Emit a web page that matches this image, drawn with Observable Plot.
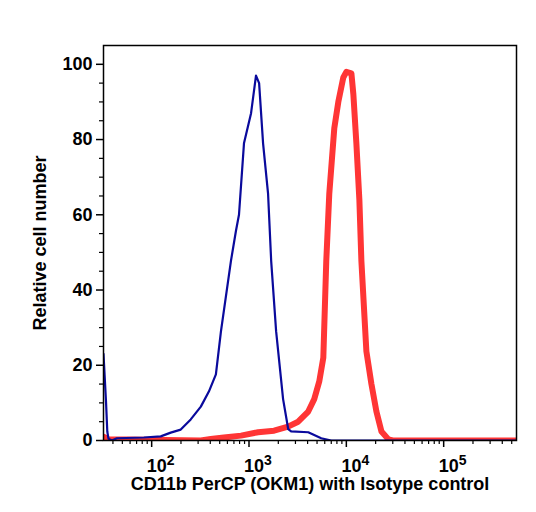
<!DOCTYPE html>
<html>
<head>
<meta charset="utf-8">
<script src="https://cdn.jsdelivr.net/npm/d3@7"></script>
<script src="https://cdn.jsdelivr.net/npm/@observablehq/plot@0.6"></script>
<style>
  html, body { margin: 0; padding: 0; background: #fff; }
  svg { display: block; }
</style>
</head>
<body>
<div id="chart"></div>
<script>
// Isotype control histogram (fluorescence, relative cell number)
const isotypeX = [32, 34, 35, 36, 39, 44, 83, 124, 157, 199, 252, 320, 387, 457, 515, 652, 734, 789, 888, 1050, 1180, 1270, 1395, 1570, 1690, 1900, 2240, 2530, 2710, 4060, 5520, 7000, 560000];
const isotypeY = [23, 10, 2.4, 0.5, 0, 0.6, 0.8, 1.1, 2.1, 2.9, 5.6, 9, 13, 17.6, 29, 47.7, 55.7, 60, 79, 87, 97, 95, 79, 65.6, 47.7, 29, 11, 3, 2.4, 2.2, 0.6, 0, 0];

// CD11b PerCP (OKM1) stained histogram
const stainedX = [32, 36, 320, 405, 552, 828, 1240, 1810, 2520, 3200, 4060, 4680, 5270, 5800, 6220, 6680, 7520, 8270, 9310, 10000, 11270, 11810, 12680, 13610, 14280, 16070, 18100, 20370, 22950, 27100, 30000, 560000];
const stainedY = [1, 0.3, 0, 0.4, 0.8, 1.3, 2.2, 2.6, 3.7, 5, 7.7, 11, 15.7, 22, 47.7, 65.6, 83, 90, 96.5, 98, 97.6, 92, 79, 64, 47.7, 23.7, 15, 7.7, 2.4, 0.3, 0, 0];

// Axis ticks
const xMajor = [1e2, 1e3, 1e4, 1e5];
const xMinor = [40, 50, 60, 70, 80, 90,
  200, 300, 400, 500, 600, 700, 800, 900,
  2000, 3000, 4000, 5000, 6000, 7000, 8000, 9000,
  20000, 30000, 40000, 50000, 60000, 70000, 80000, 90000,
  200000, 300000, 400000, 500000];
const yMajor = [0, 20, 40, 60, 80, 100];
const yMinor = [5, 10, 15, 25, 30, 35, 45, 50, 55, 65, 70, 75, 85, 90, 95];

const isotype = isotypeX.map((x, i) => ({x, y: isotypeY[i]}));
const stained = stainedX.map((x, i) => ({x, y: stainedY[i]}));

const font = "'Liberation Sans', Arial, Helvetica, sans-serif";

const chart = Plot.plot({
  width: 536,
  height: 512,
  marginLeft: 103,
  marginRight: 20,
  marginTop: 45,
  marginBottom: 72,
  style: {fontFamily: font, fontWeight: "bold", fontSize: "18px", color: "#000", background: "#fff"},
  x: {type: "log", domain: [32, 560000], axis: null},
  y: {domain: [0, 105], axis: null},
  marks: [
    // x axis: minor and major ticks, powers-of-ten labels
    Plot.axisX({ticks: xMinor, tickSize: 4, tickFormat: () => "", strokeWidth: 1.2, anchor: "bottom", label: null}),
    Plot.axisX({ticks: xMajor, tickSize: 7, tickPadding: 12, strokeWidth: 1.5, anchor: "bottom", label: null,
      fontSize: 18, fontWeight: "bold", className: "pow10", tickFormat: d => String(Math.round(Math.log10(d)))}),
    Plot.text(["CD11b PerCP (OKM1) with Isotype control"], {frameAnchor: "bottom", dy: 49, fontSize: 18, fontWeight: "bold"}),
    // y axis
    Plot.axisY({ticks: yMinor, tickSize: 4, tickFormat: () => "", strokeWidth: 1.2, label: null}),
    Plot.axisY({ticks: yMajor, tickSize: 7, tickPadding: 4, strokeWidth: 1.5, fontSize: 18, fontWeight: "bold", label: null}),
    Plot.text(["Relative cell number"], {frameAnchor: "left", textAnchor: "middle", dx: -63, rotate: -90, fontSize: 18, fontWeight: "bold"}),
    // histograms
    Plot.line(stained, {x: "x", y: "y", stroke: "#ff3535", strokeWidth: 6, clip: true}),
    Plot.line(isotype, {x: "x", y: "y", stroke: "#0a0a9c", strokeWidth: 2.2, clip: true}),
    Plot.frame({stroke: "#000", strokeWidth: 1.5})
  ]
});

// Turn each exponent label into "10" with a superscript exponent
d3.select(chart).selectAll(".pow10 text").each(function() {
  const exp = this.textContent;
  const t = d3.select(this);
  t.text("10").attr("dx", 9);
  t.append("tspan").attr("dy", "-0.55em").attr("font-size", 14).text(exp);
});

document.getElementById("chart").append(chart);
</script>
</body>
</html>
